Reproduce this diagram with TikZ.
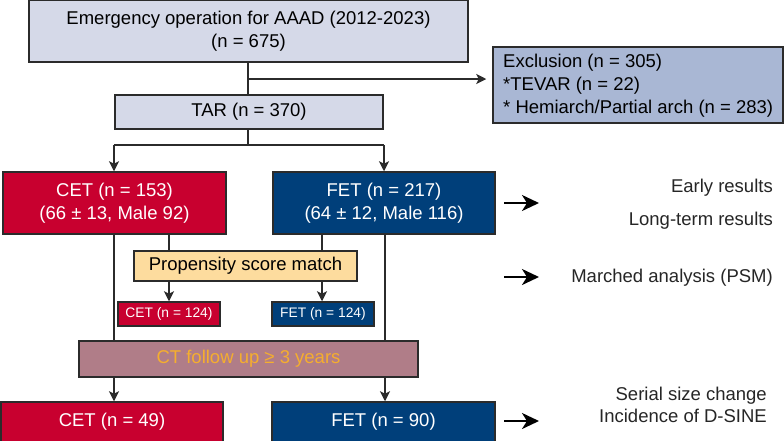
\documentclass[tikz,border=0pt]{standalone}
\usepackage{fontspec}
\setmainfont{Liberation Sans}
\usetikzlibrary{arrows.meta}
\definecolor{topfill}{HTML}{D5D9E8}
\definecolor{exfill}{HTML}{A9B7D4}
\definecolor{cetred}{HTML}{C8002F}
\definecolor{fetblue}{HTML}{003F7A}
\definecolor{psmfill}{HTML}{FDDC9E}
\definecolor{ctfill}{HTML}{B07D88}
\definecolor{cttext}{HTML}{F5AE2E}
\definecolor{edge}{HTML}{2B2B2B}
\begin{document}
\begin{tikzpicture}[x=1pt,y=-1pt,
  font=\fontsize{18.5}{22.5}\selectfont,
  box/.style={draw=edge,line width=1.5pt,inner sep=0pt,align=center},
  conn/.style={draw=edge,line width=1.4pt},
  arr/.style={conn,-{Stealth[length=10pt,width=10pt,inset=2.5pt]}},
  bigarr/.style={draw=black,line width=2.4pt,-{Stealth[length=17pt,width=16pt,inset=5pt]}},
  redbox/.style={box,fill=cetred,text=white},
  bluebox/.style={box,fill=fetblue,text=white},
  rtext/.style={anchor=east,align=right,inner sep=0pt,text=black!85}
]
\useasboundingbox (0,0) rectangle (784,440);
\fill[white] (0,0) rectangle (784,440);

% boxes
\node[box,fill=topfill,minimum width=439pt,minimum height=62pt] (top) at (248.5,31)
  {Emergency operation for AAAD (2012-2023)\\(n = 675)};
\node[box,fill=exfill,minimum width=290pt,minimum height=76pt] (excl) at (638,85) {};
\node[anchor=west,align=left,inner sep=0pt,font=\fontsize{18.5}{22.8}\selectfont] (excltext) at (503,86)
  {Exclusion (n = 305)\\{}*TEVAR (n = 22)\\{}* Hemiarch/Partial arch (n = 283)};
\node[box,fill=topfill,minimum width=268pt,minimum height=34pt] (tar) at (249,112) {TAR (n = 370)};

\node[redbox,minimum width=223pt,minimum height=62pt] (cet) at (114.5,203)
  {CET (n = 153)\\(66 ± 13, Male 92)};
\node[bluebox,minimum width=222pt,minimum height=62pt] (fet) at (384,203)
  {FET (n = 217)\\(64 ± 12, Male 116)};

\node[box,fill=psmfill,minimum width=223pt,minimum height=30pt] (psm) at (245.5,266) {Propensity score match};

\node[redbox,minimum width=102pt,minimum height=24pt,font=\fontsize{13.8}{16}\selectfont] (cet2) at (169,314) {CET (n = 124)};
\node[bluebox,minimum width=102pt,minimum height=24pt,font=\fontsize{13.8}{16}\selectfont] (fet2) at (323,314) {FET (n = 124)};

\node[box,fill=ctfill,text=cttext,minimum width=339pt,minimum height=36pt] (ct) at (248.5,359) {CT follow up ≥ 3 years};

\node[redbox,minimum width=222pt,minimum height=40pt] (cet3) at (112,422) {CET (n = 49)};
\node[bluebox,minimum width=223pt,minimum height=40pt] (fet3) at (383.5,422) {FET (n = 90)};

% right-hand texts
\node[rtext] (early) at (773,188) {Early results};
\node[rtext] (long) at (773,221) {Long-term results};
\node[rtext] (psmres) at (773,278) {Marched analysis (PSM)};
\node[rtext] (serial) at (767,405) {Serial size change\\Incidence of D-SINE};

% connectors
\coordinate (split) at (248,79);
\coordinate (tarjoin) at (248,145);
\draw[conn] (top.south -| split) -- (tar.north -| split);
\draw[arr,shorten >=6pt] (split) -- (split -| excl.west);

\draw[conn] (tar.south -| tarjoin) -- (tarjoin);
\draw[conn] (tarjoin -| 114,0) -- (tarjoin -| 384,0);
\draw[arr] (tarjoin -| 114,0) -- (cet.north -| 114,0);
\draw[arr] (tarjoin -| 384,0) -- (fet.north -| 384,0);

\draw[conn] (cet.south -| 169,0) -- (psm.north -| 169,0);
\draw[conn] (fet.south -| 322,0) -- (psm.north -| 322,0);
\draw[arr] (psm.south -| 169,0) -- (cet2.north -| 169,0);
\draw[arr] (psm.south -| 322,0) -- (fet2.north -| 322,0);

\draw[conn] (cet.south -| 114,0) -- (ct.north -| 114,0);
\draw[conn] (fet.south -| 385,0) -- (ct.north -| 385,0);
\draw[arr] (ct.south -| 114,0) -- (cet3.north -| 114,0);
\draw[arr] (ct.south -| 385,0) -- (fet3.north -| 385,0);

% outcome arrows
\coordinate (a1s) at (504,203); \coordinate (a1e) at (539,203);
\coordinate (a2s) at (504,277); \coordinate (a2e) at (539,277);
\coordinate (a3s) at (504,421); \coordinate (a3e) at (539,421);
\draw[bigarr] (a1s) -- (a1e);
\draw[bigarr] (a2s) -- (a2e);
\draw[bigarr] (a3s) -- (a3e);
\end{tikzpicture}
\end{document}
